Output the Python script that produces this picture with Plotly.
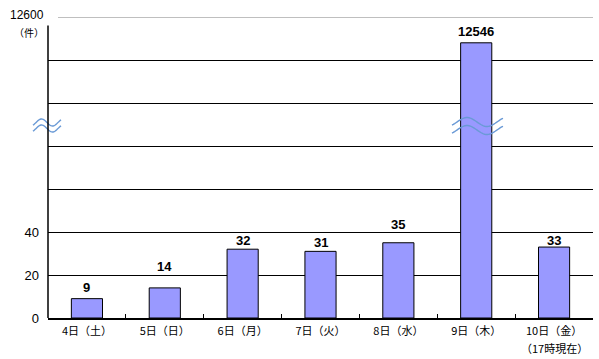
import numpy as np
import plotly.graph_objects as go

# ---- data ----
categories = ["4日（土）", "5日（日）", "6日（月）", "7日（火）", "8日（水）", "9日（木）", "10日（金）"]
category_notes = ["", "", "", "", "", "", "（17時現在）"]
values = [9, 14, 32, 31, 35, 12546, 33]
y_tick_vals = [0, 20, 40, 60, 80, 100, 120]
y_tick_text = ["0", "20", "40", "", "", "", ""]
top_value_label = "12600"
unit_label = "（件）"

# ---- broken-axis mapping ----
LOWER_MAX = 60
TOP_VAL = 12600
TOP_DISP = 140
UPPER_SCALE = 12.0 / 54.0


def to_display(v):
    if v <= LOWER_MAX:
        return v
    return TOP_DISP - (TOP_VAL - v) * UPPER_SCALE


disp = [to_display(v) for v in values]
label_shift = [11, 21, 8.5, 8.5, 18, 11, 7]  # style: pixel offsets of labels above bars

W, H = 599, 359
L, R, T, B = 48, 6, 17, 41
PW, PH = W - L - R, H - T - B

fig = go.Figure()
fig.add_trace(go.Bar(
    x=categories, y=disp,
    marker=dict(color="#9999FF", line=dict(color="black", width=1)),
    width=0.4, hoverinfo="skip",
))

for c, d, v, s in zip(categories, disp, values, label_shift):
    fig.add_annotation(x=c, y=d, text=f"<b>{v}</b>", showarrow=False,
                       yanchor="middle", yshift=s,
                       font=dict(family="Liberation Sans, Arial", size=13, color="black"))

for c, n in zip(categories, category_notes):
    if n:
        fig.add_annotation(x=c, yref="paper", y=(T + PH - 348) / PH, text=n, showarrow=False,
                           yanchor="middle", xanchor="center",
                           font=dict(family="Noto Sans CJK JP", size=11, color="black"))


def px2paper(px, py):
    return (px - L) / PW, (T + PH - py) / PH


def wave_path(x0, x1, yc, amp, period, phase_x):
    xs = np.linspace(x0, x1, 40)
    ys = yc - amp * np.sin(2 * np.pi * (xs - phase_x) / period)
    pts = [px2paper(a, b) for a, b in zip(xs, ys)]
    return "M " + " L ".join(f"{a:.5f},{b:.5f}" for a, b in pts)


wave_color = "#6A9AD6"
for off in (0, 6):
    fig.add_shape(type="path", xref="paper", yref="paper",
                  path=wave_path(33, 61, 122.5 + off, 3.5, 22, 36),
                  line=dict(color=wave_color, width=1.4))
for off in (0, 8):
    fig.add_shape(type="path", xref="paper", yref="paper",
                  path=wave_path(452, 503, 122 + off, 4.5, 40, 457),
                  line=dict(color=wave_color, width=1.4))

# left axis line
fig.add_shape(type="line", xref="paper", yref="y", x0=0, x1=0, y0=0, y1=136,
              line=dict(color="black", width=1.5))
# top gray line
fig.add_shape(type="line", xref="paper", yref="y", x0=(58 - L) / PW, x1=1, y0=TOP_DISP, y1=TOP_DISP,
              line=dict(color="#808080", width=1))

fig.add_annotation(xref="paper", yref="y", x=0, y=TOP_DISP, xshift=-2, yshift=2, text=top_value_label,
                   showarrow=False, xanchor="right", yanchor="middle",
                   font=dict(family="Liberation Sans, Arial", size=12, color="black"))
fig.add_annotation(xref="paper", yref="paper", x=(29 - L) / PW, y=(T + PH - 32) / PH, text=unit_label,
                   showarrow=False, xanchor="center", yanchor="middle",
                   font=dict(family="Noto Sans CJK JP", size=10, color="black"))

fig.update_layout(
    width=W, height=H,
    margin=dict(l=L, r=R, t=T, b=B, autoexpand=False),
    paper_bgcolor="white", plot_bgcolor="white",
    showlegend=False,
    bargap=0.6,
    xaxis=dict(showline=True, linecolor="black", linewidth=1.5, ticks="inside", ticklen=4,
               tickcolor="black", tickson="boundaries", showgrid=False, automargin=False,
               ticklabelstandoff=2,
               tickfont=dict(family="Noto Sans CJK JP", size=11, color="black")),
    yaxis=dict(range=[0, TOP_DISP], tickvals=y_tick_vals, ticktext=y_tick_text,
               showgrid=True, gridcolor="black", gridwidth=1, zeroline=False, automargin=False,
               showline=False, ticks="", ticklabelstandoff=8,
               tickfont=dict(family="Liberation Sans, Arial", size=13, color="black")),
)

fig.write_html("out.html", config={"displayModeBar": False},
               post_script="document.body.style.margin='0';document.body.style.overflow='hidden';")
